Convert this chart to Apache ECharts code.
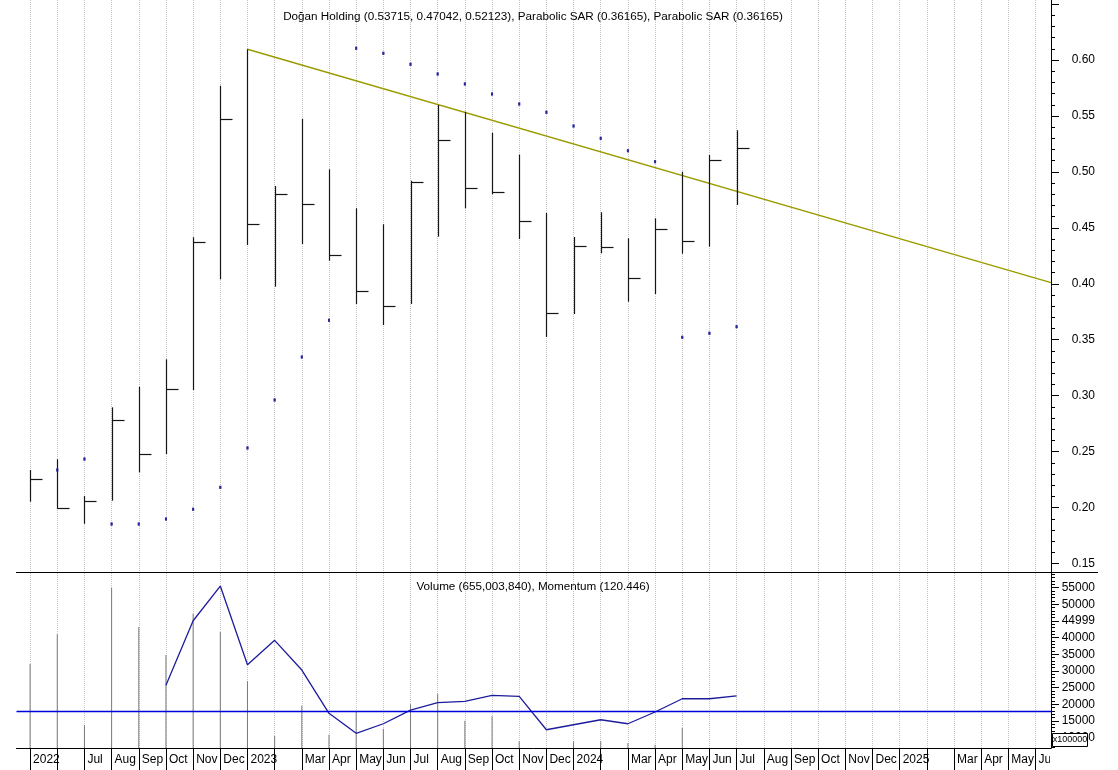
<!DOCTYPE html>
<html><head><meta charset="utf-8">
<script src="https://cdn.jsdelivr.net/npm/echarts@6/dist/echarts.min.js"></script>
<style>html,body{margin:0;padding:0;background:#fff}#c{width:1118px;height:770px}</style>
</head><body><div id="c"></div>
<script>
// ---- data ----
const monthLabels = ['2022','','Jul','Aug','Sep','Oct','Nov','Dec','2023','','Mar','Apr','May','Jun','Jul','Aug','Sep','Oct','Nov','Dec','2024','','Mar','Apr','May','Jun','Jul','Aug','Sep','Oct','Nov','Dec','2025','','Mar','Apr','May','Jun'];
const high  = [0.2336,0.2432,0.2104,0.2896,0.3080,0.3325,0.4416,0.5770,0.6096,0.4874,0.5473,0.5023,0.4675,0.4532,0.4921,0.5598,0.5538,0.5350,0.5154,0.4633,0.4418,0.4639,0.4407,0.4585,0.5002,0.5151,0.53715];
const low   = [0.2053,0.1990,0.1856,0.2062,0.2315,0.2479,0.3051,0.4040,0.4347,0.3974,0.4356,0.4206,0.3820,0.3632,0.3820,0.4421,0.4675,0.4800,0.4400,0.3525,0.3730,0.4273,0.3840,0.3909,0.4269,0.4332,0.47042];
const close = [0.2253,0.1995,0.2059,0.2783,0.2476,0.3057,0.4374,0.5473,0.4537,0.4803,0.4713,0.4260,0.3933,0.3802,0.4910,0.5285,0.4856,0.4820,0.4559,0.3736,0.4340,0.4329,0.4055,0.4492,0.4382,0.5109,0.52123];
const sar   = [null,0.2336,0.2434,0.1853,0.1853,0.1898,0.1985,0.2181,0.2533,0.2962,0.3346,0.3674,0.6105,0.6060,0.5962,0.5875,0.5786,0.5696,0.5607,0.5533,0.5410,0.5300,0.5189,0.5091,0.3522,0.3558,0.36165];
const volume = [32100,41010,13710,55000,43200,34800,47190,41700,26910,10500,19590,10890,18000,12690,20010,23190,15090,16410,8910,6800,8910,8910,8400,7890,12900,6700,6550.0384];
const momentum = [null,null,null,null,null,134.3,219.6,265.4,161.5,193.7,154.5,97.4,71.0,83.6,101.7,111.4,113.2,121.1,119.8,75.7,82.3,88.9,83.6,99.1,116.6,116.6,120.446];
const trendLine = [[8,0.6096],[37.57,0.401]];
const momentumLevel = 100;
const priceTicks = [0.15,0.20,0.25,0.30,0.35,0.40,0.45,0.50,0.55,0.60,0.65];
const priceLabels = [0.15,0.20,0.25,0.30,0.35,0.40,0.45,0.50,0.55,0.60];
const volTicks = [10000,15000,20000,25000,30000,35000,40000,45000,50000,55000];
const volTickText = {45000:'44999'};
const titleMain = 'Doğan Holding (0.53715, 0.47042, 0.52123), Parabolic SAR (0.36165), Parabolic SAR (0.36165)';
const titleSub = 'Volume (655,003,840), Momentum (120.446)';

// ---- chart ----
const FONT = 'Liberation Sans, Arial, sans-serif';
const X_MIN = -0.5, X_MAX = 37.57;
const monthIdx = monthLabels.map((_, i) => i);
const hlcData = high.map((h, i) => [i, h, low[i], close[i]]);
const sarData = sar.map((v, i) => v == null ? null : [i, v]).filter(Boolean);
const volData = volume.map((v, i) => [i, v]);
const momData = momentum.map((v, i) => v == null ? null : [i, v]).filter(Boolean);

const chart = echarts.init(document.getElementById('c'));

function renderHLC(params, api) {
  const i = api.value(0);
  const pH = api.coord([i, api.value(1)]);
  const pL = api.coord([i, api.value(2)]);
  const pC = api.coord([i, api.value(3)]);
  const x = Math.round(pH[0]) + 0.5;
  const yc = Math.round(pC[1]) + 0.5;
  const st = {stroke: '#151515', lineWidth: 1.2};
  return {type: 'group', children: [
    {type: 'line', shape: {x1: x, y1: pH[1], x2: x, y2: pL[1]}, style: st},
    {type: 'line', shape: {x1: x, y1: yc, x2: x + 12, y2: yc}, style: st}
  ]};
}

const gridLine = {show: true, lineStyle: {color: '#c4c4c4', type: [1, 1], width: 1}};
const xBase = {
  type: 'value', min: X_MIN, max: X_MAX,
  axisTick: {show: false, customValues: monthIdx},
  axisLabel: {show: false, customValues: monthIdx},
  splitLine: gridLine
};

chart.setOption({
  animation: false,
  backgroundColor: '#fff',
  title: [
    {text: titleMain, left: 533, top: 11, textAlign: 'center', padding: 0,
     textStyle: {fontSize: 11.7, fontWeight: 'normal', color: '#000', fontFamily: FONT}},
    {text: titleSub, left: 533, top: 581, textAlign: 'center', padding: 0,
     textStyle: {fontSize: 11.7, fontWeight: 'normal', color: '#000', fontFamily: FONT}}
  ],
  grid: [
    {left: 16.5, right: 67, top: 0, height: 573, outerBoundsMode: 'none', containLabel: false},
    {left: 16.5, right: 67, top: 573, height: 175, outerBoundsMode: 'none', containLabel: false}
  ],
  xAxis: [
    Object.assign({}, xBase, {gridIndex: 0, axisLine: {show: false, onZero: false}}),
    Object.assign({}, xBase, {
      gridIndex: 1,
      axisLine: {show: true, onZero: false, lineStyle: {color: '#000', width: 1}},
      axisTick: {show: true, customValues: monthIdx, length: 22, lineStyle: {color: '#000', width: 1}},
      axisLabel: {show: true, customValues: monthIdx, align: 'left', margin: 6, padding: [0, 0, 0, 3],
        fontSize: 12, color: '#000', fontFamily: FONT, hideOverlap: false,
        formatter: v => monthLabels[Math.round(v)] || ''}
    })
  ],
  yAxis: [
    {type: 'value', gridIndex: 0, position: 'right', min: 0.14155, max: 0.65362, splitNumber: 10,
     axisLine: {show: true, onZero: false, lineStyle: {color: '#000', width: 1}},
     axisTick: {show: true, customValues: priceTicks, length: 8, lineStyle: {color: '#000'}},
     minorTick: {show: true, splitNumber: 5, length: 4, lineStyle: {color: '#000'}},
     splitLine: {show: false},
     axisLabel: {customValues: priceLabels, align: 'right', margin: 44, fontSize: 12, color: '#000', fontFamily: FONT,
       formatter: v => v.toFixed(2)}},
    {type: 'value', gridIndex: 1, position: 'right', min: 6900, max: 59400, splitNumber: 10,
     axisLine: {show: true, onZero: false, lineStyle: {color: '#000', width: 1}},
     axisTick: {show: true, customValues: volTicks, length: 8, lineStyle: {color: '#000'}},
     minorTick: {show: true, splitNumber: 5, length: 4, lineStyle: {color: '#000'}},
     splitLine: {show: false},
     axisLabel: {customValues: volTicks, align: 'right', margin: 44, fontSize: 12, color: '#000', fontFamily: FONT,
       formatter: v => volTickText[v] || String(v)}},
    {type: 'value', gridIndex: 1, position: 'right', min: 51.6, max: 282.6, show: false,
     axisLine: {onZero: false}}
  ],
  series: [
    {type: 'line', xAxisIndex: 0, yAxisIndex: 0, data: trendLine, symbol: 'none', silent: true,
     lineStyle: {color: '#9b9b00', width: 1.4}, z: 3},
    {type: 'custom', xAxisIndex: 0, yAxisIndex: 0, data: hlcData, renderItem: renderHLC,
     encode: {x: 0, y: [1, 2, 3]}, z: 4},
    {type: 'scatter', name: 'Parabolic SAR', xAxisIndex: 0, yAxisIndex: 0, data: sarData,
     symbol: 'rect', symbolSize: [2, 3], itemStyle: {color: '#1f1f9a'}, z: 5},
    {type: 'scatter', name: 'Parabolic SAR 2', xAxisIndex: 0, yAxisIndex: 0, data: sarData,
     symbol: 'rect', symbolSize: [2, 3], itemStyle: {color: '#1f1f9a'}, z: 5},
    {type: 'bar', xAxisIndex: 1, yAxisIndex: 1, data: volData, barWidth: 1,
     itemStyle: {color: '#7a7a7a'}, z: 2},
    {type: 'line', xAxisIndex: 1, yAxisIndex: 2, data: momData, symbol: 'none',
     lineStyle: {color: '#1c1c9c', width: 1.3}, z: 4,
     markLine: {silent: true, symbol: 'none', label: {show: false},
       lineStyle: {color: '#0000dd', width: 1.3, type: 'solid'},
       data: [{yAxis: momentumLevel}]}}
  ],
  graphic: [
    {type: 'line', z: 50, shape: {x1: 16, y1: 572.5, x2: 1098, y2: 572.5}, style: {stroke: '#000', lineWidth: 1.2}},
    {type: 'rect', z: 60, shape: {x: 1050, y: 749, width: 68, height: 21}, style: {fill: '#fff'}},
    {type: 'rect', z: 60, shape: {x: 1052.5, y: 733.5, width: 35, height: 13}, style: {fill: '#fff', stroke: '#000', lineWidth: 1}},
    {type: 'text', z: 61, x: 1070, y: 740, style: {text: 'x100000', fontSize: 9, fill: '#000', align: 'center', verticalAlign: 'middle', fontFamily: FONT}}
  ]
});
</script></body></html>
